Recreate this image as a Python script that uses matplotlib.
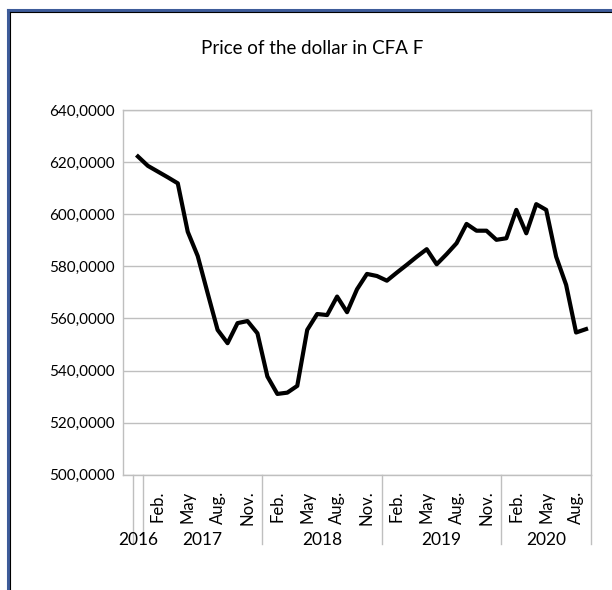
import matplotlib.pyplot as plt
from matplotlib.lines import Line2D
from matplotlib.transforms import blended_transform_factory

plt.rcParams['font.family'] = ['Lato', 'DejaVu Sans']

# category axis: one empty slot, then Dec 2016 .. Sep 2020
month_names = ["", "Dec.",
               "Jan.", "Feb.", "Mar.", "Apr.", "May", "Jun.", "Jul.", "Aug.", "Sep.", "Oct.", "Nov.", "Dec.",
               "Jan.", "Feb.", "Mar.", "Apr.", "May", "Jun.", "Jul.", "Aug.", "Sep.", "Oct.", "Nov.", "Dec.",
               "Jan.", "Feb.", "Mar.", "Apr.", "May", "Jun.", "Jul.", "Aug.", "Sep.", "Oct.", "Nov.", "Dec.",
               "Jan.", "Feb.", "Mar.", "Apr.", "May", "Jun.", "Jul.", "Aug.", "Sep."]
year_labels = ["", "2016", "2017", "2018", "2019", "2020"]
year_sizes = [1, 1, 12, 12, 12, 9]

# price of the dollar in CFA F, Dec 2016 .. Sep 2020
prices = [622.2, 618.6, 616.4, 614.2, 611.9, 593.3, 584.0, 569.7, 555.6, 550.5,
          558.2, 559.0, 554.3, 537.7, 531.0, 531.5, 534.1, 555.6, 561.7, 561.3,
          568.4, 562.4, 571.2, 577.1, 576.3, 574.5, 577.6, 580.6, 583.7, 586.6,
          580.8, 584.7, 588.9, 596.3, 593.7, 593.7, 590.2, 590.8, 601.7, 592.7,
          603.9, 601.7, 583.7, 572.9, 554.6, 555.9]

y_ticks = [500, 520, 540, 560, 580, 600, 620, 640]

grey = "#BFBFBF"

fig = plt.figure(figsize=(6.12, 5.90), dpi=100)
ax = fig.add_axes([0.201, 0.1955, 0.7647, 0.6178])

x_vals = list(range(1, len(prices) + 1))
ax.plot(x_vals, prices, color="black", linewidth=3, solid_joinstyle="round", zorder=3)

ax.set_xlim(-0.5, len(month_names) - 0.5)
ax.set_ylim(500, 640)
ax.set_yticks(y_ticks)
ax.set_yticklabels([f"{v:.4f}".replace(".", ",") for v in y_ticks], fontsize=11)
ax.grid(axis="y", color=grey, linewidth=1)
ax.set_axisbelow(True)
ax.tick_params(axis="y", length=0, pad=6)

shown = [i for i in range(len(month_names)) if i % 3 == 0 and i > 0]
ax.set_xticks(shown)
ax.set_xticklabels([month_names[i] for i in shown], rotation=90, fontsize=12)
ax.tick_params(axis="x", length=0, pad=11.5)

for s in ax.spines.values():
    s.set_color(grey)
    s.set_linewidth(1)

# year groups under the months
trans = blended_transform_factory(ax.transData, ax.transAxes)
start = -0.5
for label, n in zip(year_labels, year_sizes):
    end = start + n
    if label:
        ax.text((start + end) / 2, -0.178, label, transform=trans, ha="center", va="center", fontsize=12.5)
    ax.plot([end, end], [0, -0.19], transform=trans, color=grey, linewidth=1, clip_on=False)
    start = end

fig.text(312 / 612, 1 - 49 / 590, "Price of the dollar in CFA F", ha="center", va="center", fontsize=13.5)

# blue frame round the chart
fig.add_artist(Line2D([7.5 / 612, 7.5 / 612], [0, 1 - 9.5 / 590], color="#3E5C9A", linewidth=2.2))
fig.add_artist(Line2D([7.5 / 612, 1], [1 - 9.5 / 590, 1 - 9.5 / 590], color="#3E5C9A", linewidth=2.2))
fig.add_artist(Line2D([9.8 / 612, 9.8 / 612], [0, 1 - 11.5 / 590], color="black", linewidth=0.8))
fig.add_artist(Line2D([9.8 / 612, 1], [1 - 11.5 / 590, 1 - 11.5 / 590], color="black", linewidth=0.8))

fig.savefig("out.png", dpi=100)
